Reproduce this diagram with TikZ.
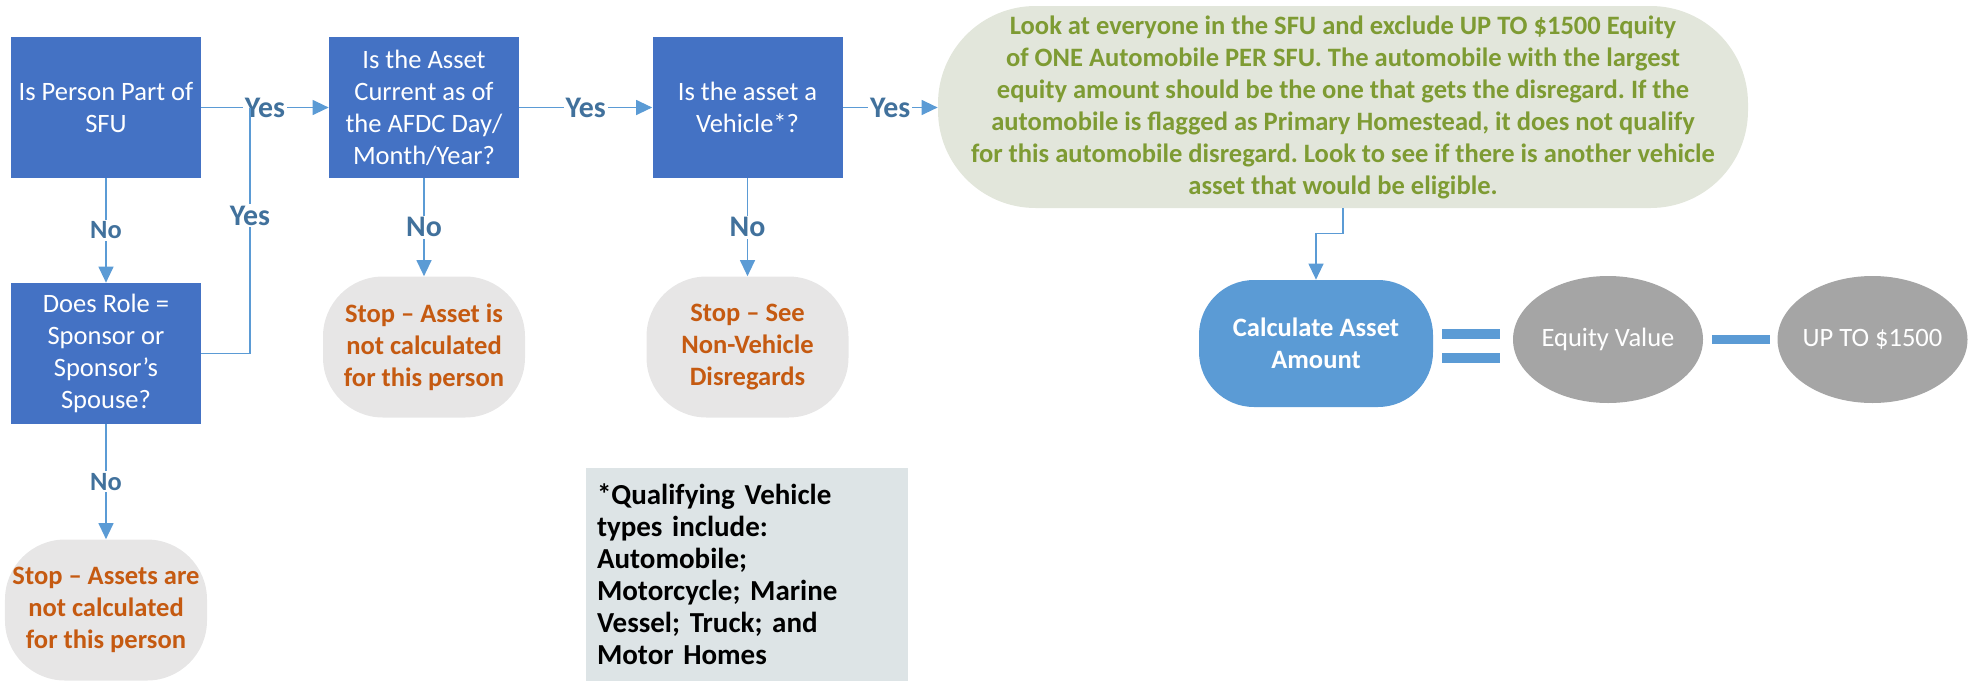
\documentclass[tikz,border=0pt]{standalone}
\usepackage{fontspec}
\setmainfont{Carlito}
\usetikzlibrary{arrows.meta,arrows}
\usetikzlibrary{calc}
\usetikzlibrary{shapes.geometric}
\usepackage{xcolor}
\definecolor{boxblue}{HTML}{4472C4}
\definecolor{linkblue}{HTML}{5B9BD5}
\definecolor{labblue}{HTML}{41719C}
\definecolor{stopgray}{HTML}{E7E6E6}
\definecolor{stoptext}{HTML}{C55A11}
\definecolor{rulefill}{HTML}{E2E6DB}
\definecolor{ruletext}{HTML}{7E9B33}
\definecolor{notefill}{HTML}{DDE4E6}
\definecolor{ovalgray}{HTML}{A5A5A5}
\newcommand{\txtsize}{\fontsize{15.1}{18.2}\selectfont}
\frenchspacing

\begin{document}
\begin{tikzpicture}
    \tikzset{line/.style={draw=linkblue,line width=0.7pt}}
    \tikzset{arrow/.style={line,-{Triangle[length=0.32cm,width=0.3cm]}}}
    \tikzset{question/.style={fill=boxblue,text=white,font=\txtsize,align=center,minimum width=3.8cm,minimum height=2.82cm,inner sep=0pt}}
    \tikzset{stop/.style={fill=stopgray,text=stoptext,font=\txtsize\bfseries,align=center,rounded corners=1.2cm,minimum width=4.04cm,minimum height=2.82cm,inner sep=0pt}}
    \tikzset{lab/.style={text=labblue,font=\fontsize{17}{20}\selectfont\bfseries,fill=white,inner sep=1pt}}
    \tikzset{smalllab/.style={lab,font=\fontsize{15}{18}\selectfont\bfseries}}
    \tikzset{oval/.style={ellipse,fill=ovalgray,text=white,font=\txtsize,minimum width=3.8cm,minimum height=2.54cm,inner xsep=-4pt,inner ysep=0pt}}
    \tikzset{opbar/.style={draw=linkblue,line width=0.19cm}}

    \useasboundingbox (0,0) rectangle (39.46,-13.62);

    \node[question] (person) at (2.12,-2.15) {Is Person Part of\\SFU};
    \node[question] (current) at (8.48,-2.15) {Is the Asset\\Current as of\\the AFDC Day/\\Month/Year?};
    \node[question] (vehicle) at (14.95,-2.15) {Is the asset a\\Vehicle*?};
    \node[question] (role) at (2.12,-7.07) {Does Role =\\Sponsor or\\Sponsor’s\\Spouse?};

    \node[stop] (stopassets) at (2.12,-12.2) {Stop – Assets are\\not calculated\\for this person};
    \node[stop] (stopasset) at (8.48,-6.94) {Stop – Asset is\\not calculated\\for this person};
    \node[stop] (stopsee) at (14.95,-6.94) {Stop – See\\Non-Vehicle\\Disregards};

    \node[fill=rulefill,text=ruletext,font=\txtsize\bfseries,align=center,rounded corners=1.95cm,minimum width=16.2cm,minimum height=4.04cm,inner sep=0pt] (rule) at (26.86,-2.14)
        {Look at everyone in the SFU and exclude UP TO \$1500 Equity\\of ONE Automobile PER SFU. The automobile with the largest\\equity amount should be the one that gets the disregard. If the\\automobile is flagged as Primary Homestead, it does not qualify\\for this automobile disregard. Look to see if there is another vehicle\\asset that would be eligible.};

    \node[fill=linkblue,text=white,font=\txtsize\bfseries,align=center,rounded corners=1.1cm,minimum width=4.68cm,minimum height=2.54cm,inner sep=0pt] (amount) at (26.32,-6.87) {Calculate Asset\\Amount};
    \node[oval] (equity) at (32.16,-6.79) {Equity Value};
    \node[oval] (upto) at (37.45,-6.79) {UP TO \$1500};

    \node[fill=notefill,font=\fontsize{16.5}{18.2}\selectfont\bfseries,align=left,text width=6.0cm,inner xsep=0.22cm,inner ysep=0pt,minimum height=4.26cm] (types) at (14.94,-11.49)
        {*Qualifying Vehicle\\types include:\\Automobile;\\Motorcycle; Marine\\Vessel; Truck; and\\Motor Homes};

    \path[arrow] (person) to node[midway,lab] {Yes} (current);
    \path[arrow] (current) to node[midway,lab] {Yes} (vehicle);
    \path[arrow] (vehicle) to node[midway,lab] {Yes} (rule.west |- vehicle);
    \path[arrow] (person) to node[midway,smalllab] {No} (role);
    \path[arrow] (current) to node[midway,lab] {No} (stopasset);
    \path[arrow] (vehicle) to node[midway,lab] {No} (stopsee);
    \path[arrow] (role) to node[midway,smalllab] {No} (stopassets);

    \coordinate (join) at (5.0,-2.15);
    \draw[line] (role.east) -| node[pos=0.78,lab] {Yes} (join);

    \draw[arrow] (rule.south) -- ++(0,-0.5) -| (amount.north);

    \draw[opbar] ($(amount.east)+(0.18,0.19)$) -- ++(1.16,0);
    \draw[opbar] ($(amount.east)+(0.18,-0.29)$) -- ++(1.16,0);
    \path[opbar,shorten <=0.18cm,shorten >=0.14cm] (equity) to (upto);
\end{tikzpicture}
\end{document}
